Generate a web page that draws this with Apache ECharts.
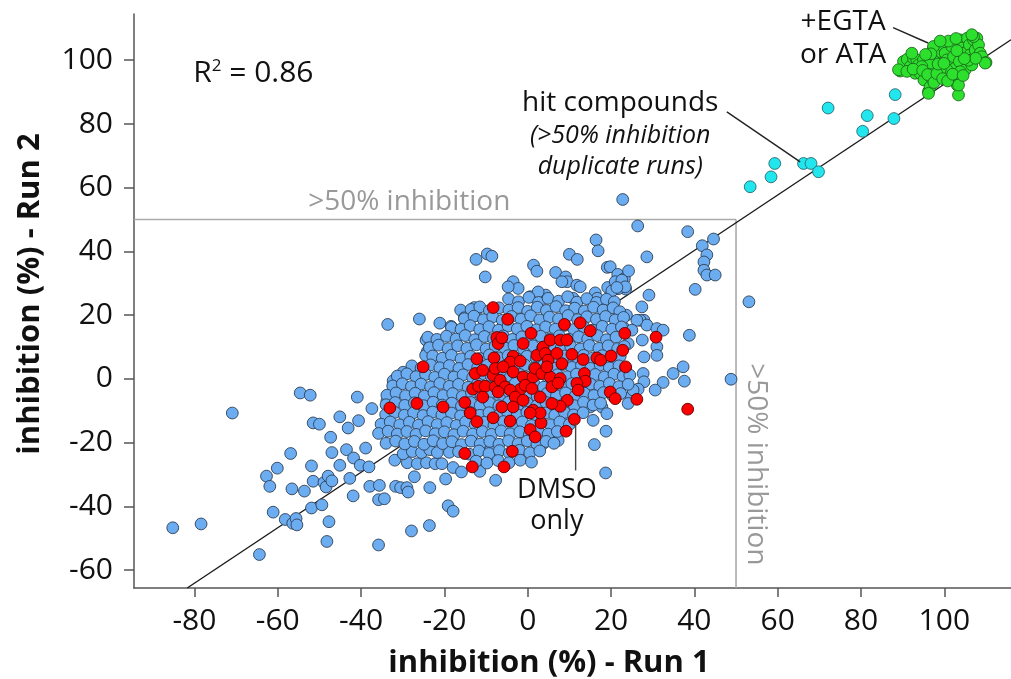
<!DOCTYPE html>
<html><head><meta charset="utf-8">
<script src="https://cdn.jsdelivr.net/npm/echarts@6/dist/echarts.min.js"></script>
<style>html,body{margin:0;padding:0;background:#fff}#c{width:1011px;height:679px}</style>
</head><body><div id="c"></div>
<script>
// ---- axes ----
const xTicks = [-80,-60,-40,-20,0,20,40,60,80,100];
const yTicks = [-60,-40,-20,0,20,40,60,80,100];
const xRange = [-94.5, 116];
const yRange = [-65.6, 114.5];
const threshold = 50;
const fitSlope = 0.87;
const fitIntercept = 5.5;
const rSquared = '0.86';

// ---- compound library (blue), scattered points ----
const blueOutliers = [
[-85.2,-46.7],[-78.4,-45.5],[-70.9,-10.7],[-64.4,-55.1],[-62.7,-30.5],[-61.9,-33.7],[-60.1,-28.0],[-61.1,-41.8],[-58.2,-44.1],[-56.9,-23.4],[-56.6,-34.5],[-56.4,-45.3],[-55.6,-43.8],[-55.4,-45.8],[-54.6,-4.4],[-52.2,-5.1],[-53.6,-35.2],[-51.9,-27.3],[-51.5,-32.1],[-51.9,-40.5],[-51.5,-13.8],[-50.0,-14.2],[-49.4,-39.5],[-48.9,-32.5],[-48.4,-33.9],[-47.9,-30.5],[-47.0,-32.0],[-48.2,-51.0],[-47.7,-44.8],[-47.3,-18.3],[-47.0,-23.1],[-45.1,-11.9],[-45.1,-27.1],
[-43.1,-15.4],[-43.5,-22.2],[-41.8,-24.8],[-42.7,-31.2],[-41.9,-36.7],[-40.6,-13.1],[-40.9,-5.7],[-38.9,-21.7],[-40.2,-27.1],[-38.1,-27.6],[-37.4,-9.3],[-37.9,-33.7],[-35.6,-33.4],[-35.8,-37.9],[-34.4,-37.6],[-35.8,-52.1],[-33.6,17.1],[-31.7,-33.7],[-30.5,-34.1],[-29.0,-34.1],[-28.7,-35.5],[-27.9,-47.7],[-26.0,18.8],[-27.2,-30.7],[-23.6,-46.0],[-23.5,-34.1],[-19.7,-31.4],[-19.1,-39.8],[-17.9,-41.5],[-21.1,17.5],[-18.4,16.5],[-16.1,21.6],[-15.2,19.2],[-29.9,2.1],[-32.3,-0.6],[-33.8,-6.9],
[-12.4,37.5],[-9.7,39.2],[-8.6,38.5],[-10.2,32.0],[-12.8,22.4],[-12.5,19.9],[-24.4,12.2],[-23.5,10.1],[-24.1,8.6],[-24.5,7.4],[-21.6,5.9],
[-31.9,-25.5],[-28.9,-26.3],[-26.5,-26.6],[-24.3,-26.3],[-22.2,-26.6],[-20.6,-26.6],[-17.9,-27.8],[-15.9,-29.2],[-11.5,-29.0],[-8.5,-22.6],[-29.9,-23.5],[-27.7,-22.8],[-25.5,-23.1],[-23.5,-22.2],[-21.7,-23.1],[-18.8,-23.0],[-7.7,-31.8],
[1.4,35.7],[2.2,33.8],[6.7,33.4],[9.1,32.0],[9.5,30.5],[8.2,30.5],[16.4,43.6],[16.9,40.2],[10.0,39.1],[11.9,37.5],[19.1,35.0],[19.8,35.2],[21.6,32.8],[23.2,31.5],[24.2,33.9],[23.5,28.2],[21.7,28.3],[19.2,28.7],[20.2,27.6],[28.6,38.3],[27.4,22.6],[27.9,18.4],[27.5,12.2],[27.9,6.9],[27.7,1.7],
[16.2,27.0],[16.7,25.3],[11.8,29.4],[12.6,28.9],[10.9,25.3],[4.3,26.3],[-3.5,30.5],[-2.3,28.4],[-4.7,28.9],[0.6,25.8],[2.5,27.3],
[22.8,56.3],[26.4,48.0],[38.4,46.2],[41.9,41.8],[44.6,43.9],[43.0,38.9],[42.3,36.7],[42.3,34.1],[43.0,32.6],[45.0,32.6],[40.2,28.1],[29.1,26.3],[23.7,20.0],[22.9,16.3],[27.0,18.4],[28.6,16.9],[31.0,15.8],[32.5,15.3],[31.0,10.1],[31.0,7.4],[38.8,13.7],[37.3,3.8],[37.6,-0.7],[34.9,1.7],[32.5,-1.1],[30.6,-3.5],[27.9,-0.9],[26.5,-3.2],[24.8,-5.6],[48.8,-0.1],[53.1,24.2],[18.8,-16.4],[16.0,-20.6],[18.7,-29.5],[-9.0,-22.4],[-2.6,-21.4],[3.7,-20.3],[5.4,-18.2],[7.3,-19.3],[7.0,-14.2],[9.0,-13.0],[13.0,-6.7],[15.0,-8.8],[17.8,-8.8],[19.0,-10.9],[15.7,-13.0],[21.0,30.5],[22.6,31.0],[23.4,28.9],[21.4,28.7],
[26.2,18.4],[25.0,15.3],[24.1,11.1],[23.8,-1.4],[25.3,-3.5],[24.1,-7.7]
];

// ---- compound library (blue), dense core ----
const blueCore = [
[-4.6,25.1],[-2.2,24.2],[0.3,25.6],[2.6,24.0],[4.9,25.3],[7.4,24.4],[9.6,25.8],[11.8,24.1],[14.2,25.2],[16.5,24.0],[18.9,25.0],[20.8,24.2],
[-13.6,21.8],[-11.5,22.6],[-9.2,21.4],[-6.9,22.3],[-4.5,21.6],[-2.3,22.4],[0.0,21.2],[2.3,22.5],[4.5,21.5],[6.8,22.7],[9.1,21.4],[11.3,22.2],[13.6,21.3],[15.8,22.5],[18.1,21.6],[20.5,22.3],[22.1,21.1],
[-15.2,18.9],[-12.9,19.7],[-10.6,18.6],[-8.4,19.5],[-6.1,18.4],[-3.9,19.6],[-1.6,18.7],[0.7,19.8],[2.9,18.5],[5.2,19.4],[7.4,18.8],[9.7,19.9],[12.0,18.6],[14.2,19.5],[16.5,18.7],[18.7,19.6],[21.0,18.5],[23.0,19.3],
[-18.3,16.2],[-16.0,15.6],[-13.8,16.7],[-11.5,15.5],[-9.3,16.4],[-7.0,15.3],[-4.7,16.6],[-2.5,15.7],[-0.2,16.5],[2.1,15.4],[4.3,16.3],[6.6,15.6],[8.9,16.8],[11.1,15.5],[13.4,16.4],[15.6,15.3],[17.9,16.5],[20.2,15.6],[22.5,16.3],
[-24.0,13.1],[-21.8,12.4],[-19.5,13.4],[-17.2,12.5],[-15.0,13.6],[-12.7,12.3],[-10.4,13.3],[-8.2,12.6],[-5.9,13.5],[-3.7,12.4],[-1.4,13.2],[0.9,12.3],[3.1,13.4],[5.4,12.6],[7.6,13.5],[9.9,12.4],[12.2,13.2],[14.4,12.5],[16.7,13.6],[18.9,12.3],[21.2,13.1],
[-23.6,9.8],[-21.4,10.6],[-19.1,9.5],[-16.8,10.4],[-14.6,9.6],[-12.3,10.7],[-10.0,9.4],[-7.8,10.3],[-5.5,9.7],[-3.3,10.5],[-1.0,9.3],[1.3,10.4],[3.5,9.5],[5.8,10.6],[8.0,9.6],[10.3,10.3],[12.6,9.4],[14.8,10.5],[17.1,9.6],[19.3,10.4],[21.6,9.5],[23.2,10.2],
[-22.8,7.2],[-20.5,6.5],[-18.3,7.4],[-16.0,6.3],[-13.7,7.1],[-11.5,6.4],[-9.2,7.5],[-7.0,6.6],[-4.7,7.3],[-2.4,6.2],[-0.2,7.1],[2.1,6.4],[4.3,7.5],[6.6,6.5],[8.9,7.2],[11.1,6.3],[13.4,7.4],[15.6,6.6],[17.9,7.3],[20.1,6.4],[22.2,7.1],
[-27.8,4.1],[-25.6,3.4],[-23.3,4.4],[-21.1,3.5],[-18.8,4.2],[-16.5,3.3],[-14.3,4.5],[-12.0,3.6],[-9.7,4.3],[-7.5,3.4],[-5.2,4.2],[-3.0,3.3],[-0.7,4.4],[1.6,3.5],[3.8,4.3],[6.1,3.4],[8.3,4.5],[10.6,3.6],[12.9,4.2],[15.1,3.3],[17.4,4.4],[19.6,3.5],[21.9,4.1],[23.5,3.4],
[-31.3,0.9],[-29.0,1.6],[-26.8,0.7],[-24.5,1.4],[-22.3,0.5],[-20.0,1.5],[-17.7,0.6],[-15.5,1.3],[-13.2,0.4],[-10.9,1.6],[-8.7,0.7],[-6.4,1.5],[-4.2,0.5],[-1.9,1.4],[0.4,0.6],[2.6,1.6],[4.9,0.4],[7.1,1.3],[9.4,0.7],[11.7,1.5],[13.9,0.5],[16.2,1.4],[18.4,0.6],[20.7,1.5],[22.9,0.8],[24.5,1.2],
[-32.4,-2.2],[-30.1,-1.5],[-27.9,-2.4],[-25.6,-1.6],[-23.3,-2.5],[-21.1,-1.4],[-18.8,-2.3],[-16.6,-1.7],[-14.3,-2.6],[-12.0,-1.5],[-9.8,-2.4],[-7.5,-1.6],[-5.3,-2.5],[-3.0,-1.4],[-0.7,-2.3],[1.5,-1.5],[3.8,-2.6],[6.0,-1.7],[8.3,-2.4],[10.6,-1.5],[12.8,-2.5],[15.1,-1.6],[17.3,-2.3],[19.6,-1.4],[21.9,-2.4],[24.1,-1.7],
[-33.8,-5.1],[-31.6,-4.4],[-29.3,-5.3],[-27.0,-4.5],[-24.8,-5.4],[-22.5,-4.3],[-20.3,-5.2],[-18.0,-4.6],[-15.7,-5.5],[-13.5,-4.4],[-11.2,-5.3],[-9.0,-4.5],[-6.7,-5.4],[-4.4,-4.3],[-2.2,-5.2],[0.1,-4.4],[2.3,-5.5],[4.6,-4.6],[6.9,-5.3],[9.1,-4.4],[11.4,-5.4],[13.6,-4.5],[15.9,-5.2],[18.2,-4.3],[20.4,-5.3],[22.3,-4.6],
[-34.0,-8.1],[-31.8,-7.4],[-29.5,-8.3],[-27.2,-7.5],[-25.0,-8.4],[-22.7,-7.3],[-20.5,-8.2],[-18.2,-7.6],[-15.9,-8.5],[-13.7,-7.4],[-11.4,-8.3],[-9.2,-7.5],[-6.9,-8.4],[-4.6,-7.3],[-2.4,-8.2],[-0.1,-7.6],[2.1,-8.5],[4.4,-7.4],[6.7,-8.3],[8.9,-7.5],[11.2,-8.4],[13.4,-7.3],[15.7,-8.2],[17.5,-7.6],
[-34.1,-11.2],[-31.9,-10.5],[-29.6,-11.4],[-27.4,-10.6],[-25.1,-11.5],[-22.8,-10.4],[-20.6,-11.3],[-18.3,-10.7],[-16.1,-11.6],[-13.8,-10.5],[-11.5,-11.4],[-9.3,-10.6],[-7.0,-11.5],[-4.8,-10.4],[-2.5,-11.3],[-0.2,-10.5],[2.0,-11.6],[4.3,-10.7],[6.5,-11.4],[8.8,-10.5],[11.0,-11.3],[13.3,-10.6],
[-35.2,-14.2],[-33.0,-13.5],[-30.7,-14.4],[-28.4,-13.6],[-26.2,-14.5],[-23.9,-13.4],[-21.7,-14.3],[-19.4,-13.7],[-17.1,-14.6],[-14.9,-13.5],[-12.6,-14.4],[-10.4,-13.6],[-8.1,-14.5],[-5.8,-13.4],[-3.6,-14.3],[-1.3,-13.5],[0.9,-14.6],[3.2,-13.7],[5.5,-14.4],[7.7,-13.5],[10.0,-14.3],
[-35.8,-17.1],[-33.5,-16.4],[-31.3,-17.3],[-29.0,-16.5],[-26.8,-17.4],[-24.5,-16.3],[-22.2,-17.2],[-20.0,-16.6],[-17.7,-17.5],[-15.5,-16.4],[-13.2,-17.3],[-10.9,-16.5],[-8.7,-17.4],[-6.4,-16.3],[-4.2,-17.2],[-1.9,-16.6],[0.4,-17.5],[2.6,-16.4],[4.9,-17.3],[7.1,-16.5],
[-34.0,-20.2],[-31.7,-19.5],[-29.5,-20.4],[-27.2,-19.6],[-24.9,-20.5],[-22.7,-19.4],[-20.4,-20.3],[-18.2,-19.7],[-15.9,-20.6],[-13.6,-19.5],[-11.4,-20.4],[-9.1,-19.6],[-6.9,-20.5],[-4.6,-19.4],[-2.3,-20.3],[-0.1,-19.5],[2.2,-20.4],[4.4,-19.6],[6.3,-20.2],
[-16.6,-22.8],[-14.0,-23.6],[-11.7,-22.6],[-9.3,-23.4],[-6.8,-22.5],[-4.4,-23.3],[-2.0,-22.4],[0.5,-23.2],[2.9,-22.6],
[-12.4,-25.8],[-9.8,-26.4],[-7.1,-25.6],[-4.5,-26.3],[-1.8,-25.5],[0.9,-26.1]
];

// ---- DMSO only (red) ----
const dmsoPoints = [
[-33.1,-9.1],[-26.6,-7.7],[-25.1,3.8],[-20.3,-8.8],[-15.1,-7.4],[-15.1,-23.4],[-13.3,-27.6],[-8.3,22.4],[-13.8,-10.7],[-12.2,-13.4],[-8.3,-12.2],[-12.6,1.7],[-10.8,2.7],[-8.3,1.1],[-12.2,6.3],[-8.1,6.6],[-13.2,-3.2],[-11.8,-2.3],[-10.2,-2.3],[-10.8,-5.7],[-7.8,-2.5],[-7.4,13.0],[-7.1,11.1],[-4.8,18.7],[-6.2,12.9],[-1.1,11.1],[0.8,14.3],[-3.5,7.1],[-4.2,5.3],[-1.8,5.6],[2.2,7.4],[3.7,10.0],[5.4,12.2],[7.8,12.2],[9.4,12.2],[8.8,17.1],[12.6,17.6],[15.0,15.1],[4.2,8.0],[4.9,5.9],[7.0,8.0],[8.2,4.8],[10.6,7.7],[13.3,6.1],[16.6,6.6],[17.5,5.9],[20.0,7.2],[22.8,9.0],[23.3,14.3],[23.5,3.8],[19.8,-4.1],[21.0,-6.2],[26.2,-6.4],[13.6,1.7],[13.8,-0.7],[11.8,-1.4],[12.1,-3.5],[9.5,-6.7],[7.8,-8.6],[11.2,-12.7],[9.2,-16.4],[0.6,-15.9],[1.8,-18.2],[3.2,-13.8],[1.3,-9.8],[3.0,-10.7],[0.6,-10.7],[-3.7,-22.7],[-5.7,-27.6],[-4.2,-13.2],[-2.3,-6.2],[-1.8,-3.3],[-7.8,3.3],[-6.6,-0.4],[-5.4,-2.5],[-5.9,3.8],[-3.5,2.2],[-1.1,0.6],[-0.6,-2.0],[1.3,0.6],[1.8,3.3],[3.4,1.7],[5.4,0.6],[5.8,-2.5],[7.8,0.1],[4.6,3.8],[-7.1,-4.1],[-4.2,-3.5],[-3.0,-5.7],[-1.1,-6.7],[-6.2,-8.8],[-3.5,-8.8],[30.8,13.1],[38.4,-9.5],[7.3,-1.3],[5.8,-7.7],[3.0,-5.7],[1.0,-3.0]
];

// ---- hit compounds (cyan) ----
const hitPoints = [
[53.4,60.3],[58.4,63.4],[59.3,67.6],[66.2,67.6],[68.0,67.6],[69.8,65.0],[72.1,85.0],[80.4,77.7],[81.5,82.6],[87.9,81.7],[88.2,89.2]
];

// ---- +EGTA or ATA controls (green) ----
const controlPoints = [
[89.4,96.6],[90.2,99.6],[91.1,100.3],[91.8,98.0],[92.6,100.6],[93.4,100.1],[93.8,98.5],[93.0,95.9],[94.2,95.9],[95.1,93.8],[95.0,100.1],[95.6,97.0],[96.2,90.2],[96.6,91.7],[97.0,94.3],[97.4,103.8],[97.8,98.0],[98.0,101.7],[98.6,100.1],[99.0,102.7],[99.8,104.3],[100.2,102.2],[100.6,100.1],[101.0,98.5],[101.4,95.9],[101.8,104.3],[102.2,101.1],[102.6,97.5],[103.0,94.3],[103.1,92.2],[103.6,99.6],[103.8,106.4],[104.2,103.8],[104.6,102.2],[105.0,97.0],[105.5,106.9],[106.0,104.8],[106.2,101.7],[106.6,98.5],[107.0,106.4],[107.4,103.2],[107.8,106.9],[108.2,104.8],[108.6,102.2],[109.0,101.1],[110.0,99.3],[103.8,96.4],[100.6,97.0],[99.0,97.0],[96.6,99.1],[94.6,98.0],[92.2,102.2],[103.4,89.1],
[96.2,89.6],[103.4,92.2],[109.8,99.1],[89.0,97.0],[97.4,104.3],[107.0,107.4],
[91.0,96.5],[92.5,97.2],[94.8,96.8],[96.0,95.5],[97.5,93.0],[98.2,95.8],[99.6,94.2],[100.8,93.5],[102.0,95.6],[104.5,95.2],[105.8,100.0],[107.5,100.6],[104.8,100.5],[103.0,103.0],[101.0,106.0],[99.0,106.0],[98.5,98.8],[96.8,102.0],[95.5,101.8],[99.9,99.0],[102.8,106.8],[106.6,108.0]
];

// ---- annotation anchors (data coordinates) ----
const annR2 = [-80.3, 96];
const annThreshH = [-52.7, 55.5];
const annThreshV = [54.8, -26.8];
const annHit = [[22.2, 86.6], [22.2, 76.2], [22.2, 66.4]];
const annHitLine = [[47.8, 83.8], [65.4, 68.1]];
const annCtrl = [[75.7, 112.0], [75.7, 101.6]];
const annCtrlLine = [[87.7, 110.2], [96.1, 105.4]];
const annDmso = [[7.0, -35.0], [7.0, -44.7]];
const annDmsoLine = [[11.5, -13.9], [11.5, -28.7]];

const FONT = 'Open Sans';
const chart = echarts.init(document.getElementById('c'), null, {renderer: 'canvas'});

const fitLine = [
  [(yRange[0] - fitIntercept) / fitSlope, yRange[0]],
  [xRange[1], fitSlope * xRange[1] + fitIntercept]
];

const scatterStyle = (fill, border) => ({
  type: 'scatter', symbol: 'circle', symbolSize: 11.8, z: 3, silent: true,
  itemStyle: {color: fill, borderColor: border, borderWidth: 0.9, opacity: 1}
});

chart.setOption({
  animation: false,
  backgroundColor: '#fff',
  grid: {left: 134, right: 0, top: 14, bottom: 91},
  xAxis: {
    type: 'value', min: xRange[0], max: xRange[1],
    axisLine: {onZero: false, lineStyle: {color: '#555', width: 1.5}},
    axisTick: {customValues: xTicks, length: 9, lineStyle: {color: '#555', width: 1.5}},
    axisLabel: {customValues: xTicks, fontSize: 30, fontFamily: FONT, color: '#111', margin: 18},
    splitLine: {show: false}
  },
  yAxis: {
    type: 'value', min: yRange[0], max: yRange[1],
    axisLine: {onZero: false, lineStyle: {color: '#555', width: 1.5}},
    axisTick: {customValues: yTicks, length: 10, lineStyle: {color: '#555', width: 1.5}},
    axisLabel: {customValues: yTicks, fontSize: 30, fontFamily: FONT, color: '#111', margin: 21},
    splitLine: {show: false}
  },
  series: [
    {type: 'line', data: [[xRange[0], threshold], [threshold, threshold]], symbol: 'none', z: 1, silent: true,
     lineStyle: {color: '#aaa', width: 1.6}},
    {type: 'line', data: [[threshold, yRange[0]], [threshold, threshold]], symbol: 'none', z: 1, silent: true,
     lineStyle: {color: '#aaa', width: 1.6}},
    {type: 'line', data: fitLine, symbol: 'none', z: 2, silent: true, clip: true,
     lineStyle: {color: '#1a1a1a', width: 1.4}},
    Object.assign(scatterStyle('#6cacf0', '#2e3f55'), {data: blueOutliers.concat(blueCore)}),
    Object.assign(scatterStyle('#ff0000', '#5a0000'), {data: dmsoPoints}),
    Object.assign(scatterStyle('#22e6ee', '#2a6a70'), {data: hitPoints}),
    Object.assign(scatterStyle('#2ee02e', '#1c6a1c'), {data: controlPoints})
  ]
});

const px = p => chart.convertToPixel({gridIndex: 0}, p);
const txt = (p, text, style, extra) => Object.assign({
  type: 'text', x: px(p)[0], y: px(p)[1], silent: true, z: 10,
  style: Object.assign({text: text, fontFamily: FONT, fill: '#111', align: 'center', verticalAlign: 'middle'}, style)
}, extra || {});
const seg = (a, b, color) => ({
  type: 'line', silent: true, z: 9,
  shape: {x1: px(a)[0], y1: px(a)[1], x2: px(b)[0], y2: px(b)[1]},
  style: {stroke: color, lineWidth: 1.4}
});

chart.setOption({
  graphic: [
    {type: 'text', x: 549, y: 663, silent: true,
     style: {text: 'inhibition (%) - Run 1', fontFamily: FONT, fontWeight: 'bold', fontSize: 31, fill: '#111', align: 'center', verticalAlign: 'middle'}},
    {type: 'text', x: 30, y: 294, rotation: Math.PI / 2, silent: true,
     style: {text: 'inhibition (%) - Run 2', fontFamily: FONT, fontWeight: 'bold', fontSize: 31, fill: '#111', align: 'center', verticalAlign: 'middle'}},
    txt(annR2, '{r|R}{s|2}{r| = ' + rSquared + '}', {align: 'left', rich: {r: {fontSize: 30, fontFamily: FONT, fill: '#111'}, s: {fontSize: 17, fontFamily: FONT, fill: '#111', verticalAlign: 'top', padding: [0, 0, 14, 0]}}}),
    txt(annThreshH, '>50% inhibition', {align: 'left', fontSize: 28, fill: '#999'}),
    txt(annThreshV, '>50% inhibition', {fontSize: 28, fill: '#999'}, {rotation: -Math.PI / 2}),
    txt(annHit[0], 'hit compounds', {fontSize: 28}),
    txt(annHit[1], '(>50% inhibition', {fontSize: 25, fontStyle: 'italic'}),
    txt(annHit[2], 'duplicate runs)', {fontSize: 25, fontStyle: 'italic'}),
    seg(annHitLine[0], annHitLine[1], '#222'),
    txt(annCtrl[0], '+EGTA', {fontSize: 28}),
    txt(annCtrl[1], 'or ATA', {fontSize: 28}),
    seg(annCtrlLine[0], annCtrlLine[1], '#222'),
    txt(annDmso[0], 'DMSO', {fontSize: 27}),
    txt(annDmso[1], 'only', {fontSize: 27}),
    seg(annDmsoLine[0], annDmsoLine[1], '#444')
  ]
});
</script></body></html>
